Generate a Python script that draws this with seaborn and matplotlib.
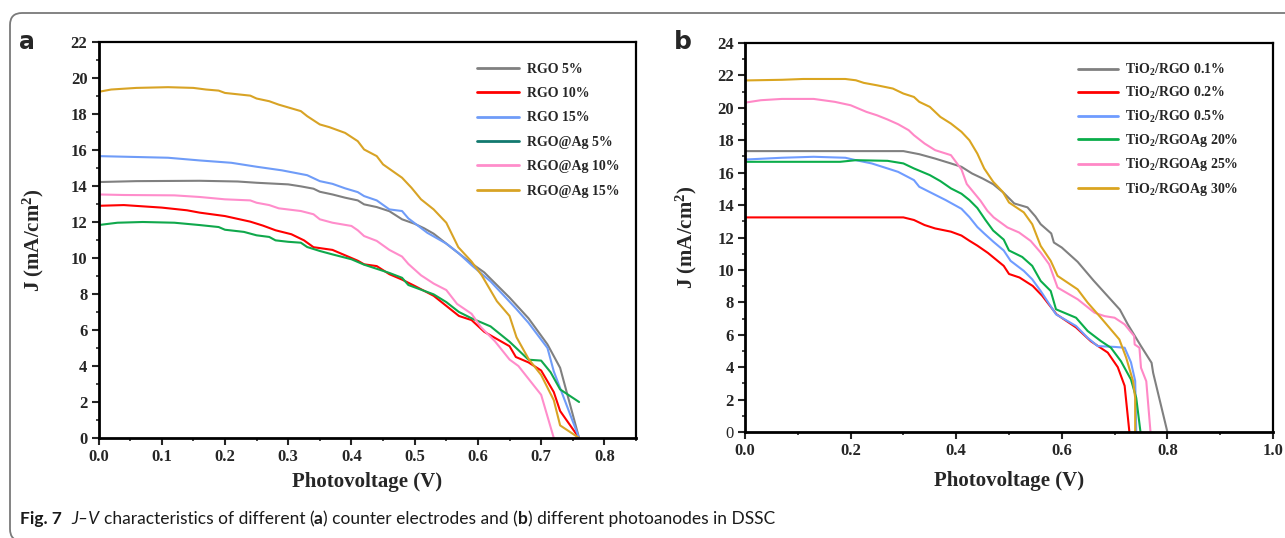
import numpy as np
import pandas as pd
import matplotlib
matplotlib.use('Agg')
import matplotlib.pyplot as plt
import seaborn as sns
from matplotlib.patches import FancyBboxPatch
from matplotlib.ticker import MultipleLocator

# ---- panel a: counter electrodes ----
labels_a = ['RGO 5%', 'RGO 10%', 'RGO 15%', 'RGO@Ag 5%', 'RGO@Ag 10%', 'RGO@Ag 15%']
colors_a = ['#808080', '#ff0000', '#6f9cf8', '#10a84c', '#ff8dcb', '#d8a325']

rgo5_v = [0, 0.06, 0.16, 0.22, 0.25, 0.30, 0.32, 0.34, 0.35, 0.37, 0.39, 0.41, 0.42, 0.44, 0.46,
          0.48, 0.50, 0.515, 0.53, 0.55, 0.59, 0.61, 0.63, 0.65, 0.68, 0.71, 0.73, 0.76]
rgo5_j = [14.22, 14.27, 14.29, 14.25, 14.18, 14.09, 13.98, 13.85, 13.68, 13.53, 13.35, 13.2, 12.98,
          12.83, 12.6, 12.15, 11.9, 11.65, 11.35, 10.8, 9.7, 9.2, 8.5, 7.8, 6.65, 5.2, 3.9, 0.0]

rgo10_v = [0, 0.04, 0.10, 0.14, 0.16, 0.20, 0.24, 0.26, 0.28, 0.305, 0.325, 0.34, 0.37, 0.39, 0.41,
           0.42, 0.44, 0.46, 0.48, 0.50, 0.53, 0.555, 0.57, 0.59, 0.61, 0.65, 0.66, 0.68, 0.70, 0.72,
           0.73, 0.76]
rgo10_j = [12.9, 12.94, 12.8, 12.65, 12.52, 12.33, 12.02, 11.8, 11.54, 11.32, 10.98, 10.6, 10.45,
           10.15, 9.85, 9.65, 9.55, 9.1, 8.8, 8.45, 7.9, 7.2, 6.78, 6.55, 5.9, 5.1, 4.5, 4.2, 3.75,
           2.55, 1.5, 0.0]

rgo15_v = [0, 0.11, 0.16, 0.21, 0.25, 0.29, 0.33, 0.35, 0.37, 0.39, 0.41, 0.42, 0.44, 0.46, 0.48,
           0.49, 0.52, 0.55, 0.57, 0.59, 0.62, 0.66, 0.68, 0.71, 0.72, 0.76]
rgo15_j = [15.66, 15.57, 15.42, 15.29, 15.07, 14.87, 14.6, 14.27, 14.12, 13.87, 13.66, 13.44, 13.2,
           12.7, 12.61, 12.2, 11.4, 10.8, 10.25, 9.6, 8.7, 7.2, 6.4, 5.0, 3.7, 0.0]

ag5_v = [0, 0.03, 0.07, 0.12, 0.16, 0.19, 0.20, 0.23, 0.25, 0.27, 0.28, 0.30, 0.32, 0.33, 0.35, 0.37,
         0.40, 0.42, 0.46, 0.48, 0.49, 0.53, 0.55, 0.57, 0.59, 0.62, 0.65, 0.68, 0.70, 0.715, 0.73, 0.76]
ag5_j = [11.83, 11.96, 12.0, 11.96, 11.83, 11.72, 11.57, 11.45, 11.26, 11.17, 10.98, 10.9, 10.85,
         10.61, 10.39, 10.2, 9.93, 9.63, 9.17, 8.9, 8.5, 7.98, 7.55, 7.0, 6.65, 6.2, 5.35, 4.35, 4.3,
         3.65, 2.7, 2.0]

ag10_v = [0, 0.04, 0.12, 0.16, 0.20, 0.24, 0.25, 0.27, 0.285, 0.32, 0.34, 0.35, 0.37, 0.40, 0.41,
          0.42, 0.44, 0.46, 0.48, 0.49, 0.51, 0.53, 0.55, 0.567, 0.59, 0.605, 0.627, 0.65, 0.664, 0.70,
          0.72]
ag10_j = [13.53, 13.5, 13.48, 13.39, 13.26, 13.2, 13.07, 12.94, 12.76, 12.61, 12.43, 12.15, 11.96,
          11.78, 11.54, 11.22, 10.95, 10.45, 10.08, 9.67, 9.04, 8.58, 8.22, 7.45, 6.9, 6.15, 5.37, 4.36,
          4.0, 2.4, 0.0]

ag15_v = [0, 0.02, 0.06, 0.11, 0.15, 0.17, 0.19, 0.20, 0.24, 0.25, 0.27, 0.285, 0.32, 0.33, 0.35,
          0.365, 0.39, 0.41, 0.42, 0.44, 0.45, 0.48, 0.495, 0.51, 0.53, 0.55, 0.569, 0.59, 0.606, 0.63,
          0.65, 0.661, 0.68, 0.70, 0.72, 0.73, 0.76]
ag15_j = [19.23, 19.36, 19.45, 19.49, 19.45, 19.36, 19.3, 19.17, 19.02, 18.86, 18.71, 18.52, 18.16,
          17.88, 17.42, 17.27, 16.95, 16.49, 16.03, 15.66, 15.2, 14.46, 13.9, 13.26, 12.7, 11.96, 10.6,
          9.8, 9.04, 7.6, 6.78, 5.6, 4.4, 3.5, 2.1, 0.7, 0.0]

# ---- panel b: photoanodes ----
labels_b = ['TiO$_2$/RGO 0.1%', 'TiO$_2$/RGO 0.2%', 'TiO$_2$/RGO 0.5%',
            'TiO$_2$/RGOAg 20%', 'TiO$_2$/RGOAg 25%', 'TiO$_2$/RGOAg 30%']
colors_b = ['#808080', '#ff0000', '#6f9cff', '#0aad4a', '#ff88c6', '#daa520']

t01_v = [0, 0.30, 0.33, 0.36, 0.39, 0.41, 0.43, 0.45, 0.47, 0.49, 0.51, 0.535, 0.55, 0.56, 0.58,
         0.585, 0.60, 0.63, 0.66, 0.71, 0.725, 0.75, 0.77, 0.773, 0.80]
t01_j = [17.33, 17.33, 17.14, 16.87, 16.57, 16.36, 15.95, 15.64, 15.29, 14.75, 14.1, 13.86, 13.3,
         12.82, 12.25, 11.69, 11.38, 10.5, 9.35, 7.55, 6.64, 5.3, 4.27, 3.65, 0.0]

t02_v = [0, 0.30, 0.32, 0.34, 0.36, 0.39, 0.41, 0.425, 0.44, 0.46, 0.49, 0.50, 0.52, 0.545, 0.563,
         0.59, 0.627, 0.655, 0.687, 0.706, 0.719, 0.728]
t02_j = [13.24, 13.24, 13.08, 12.77, 12.56, 12.36, 12.12, 11.8, 11.5, 11.05, 10.25, 9.75, 9.53, 9.01,
         8.4, 7.26, 6.45, 5.6, 4.9, 4.0, 2.85, 0.0]

t05_v = [0, 0.07, 0.13, 0.19, 0.21, 0.24, 0.27, 0.29, 0.32, 0.33, 0.355, 0.38, 0.41, 0.425, 0.44,
         0.453, 0.47, 0.49, 0.503, 0.528, 0.544, 0.56, 0.589, 0.627, 0.649, 0.668, 0.70, 0.719, 0.731,
         0.739, 0.741]
t05_j = [16.81, 16.92, 16.98, 16.92, 16.77, 16.57, 16.26, 16.05, 15.54, 15.13, 14.72, 14.31, 13.77,
         13.26, 12.65, 12.25, 11.75, 11.2, 10.56, 9.94, 9.42, 8.7, 7.26, 6.54, 5.81, 5.3, 5.25, 5.2,
         4.3, 3.15, 0.0]

t20_v = [0, 0.18, 0.21, 0.27, 0.30, 0.32, 0.35, 0.37, 0.39, 0.41, 0.425, 0.44, 0.455, 0.47, 0.49,
         0.50, 0.525, 0.544, 0.56, 0.579, 0.589, 0.627, 0.649, 0.674, 0.693, 0.712, 0.731, 0.741, 0.749]
t20_j = [16.67, 16.67, 16.77, 16.73, 16.57, 16.26, 15.85, 15.48, 15.03, 14.7, 14.31, 13.82, 13.1,
         12.43, 11.87, 11.2, 10.8, 10.25, 9.32, 8.7, 7.57, 7.05, 6.23, 5.61, 5.2, 4.37, 3.24, 2.1, 0.0]

t25_v = [0, 0.03, 0.07, 0.13, 0.17, 0.20, 0.23, 0.25, 0.27, 0.29, 0.31, 0.32, 0.34, 0.36, 0.39,
         0.41, 0.42, 0.446, 0.459, 0.471, 0.497, 0.519, 0.541, 0.56, 0.576, 0.592, 0.63, 0.662, 0.681,
         0.70, 0.719, 0.737, 0.738, 0.747, 0.75, 0.76, 0.768]
t25_j = [20.32, 20.47, 20.55, 20.55, 20.37, 20.16, 19.75, 19.54, 19.28, 18.99, 18.62, 18.31, 17.8,
         17.39, 17.08, 16.2, 15.3, 14.27, 13.65, 13.24, 12.62, 12.31, 11.79, 11.07, 10.35, 8.91, 8.19,
         7.36, 7.15, 7.05, 6.64, 5.92, 5.4, 5.2, 3.96, 3.13, 0.0]

t30_v = [0, 0.07, 0.11, 0.19, 0.21, 0.225, 0.25, 0.28, 0.30, 0.32, 0.33, 0.35, 0.37, 0.39, 0.41,
         0.425, 0.44, 0.453, 0.47, 0.488, 0.50, 0.528, 0.544, 0.56, 0.579, 0.592, 0.63, 0.649, 0.674,
         0.709, 0.722, 0.735, 0.739, 0.739]
t30_j = [21.69, 21.73, 21.78, 21.78, 21.7, 21.54, 21.39, 21.19, 20.88, 20.67, 20.37, 20.06, 19.44,
         19.03, 18.52, 18.0, 17.18, 16.26, 15.44, 14.82, 14.16, 13.55, 12.82, 11.48, 10.56, 9.63, 8.8,
         7.98, 7.05, 5.71, 4.58, 3.13, 2.1, 0.0]

yticks_a = list(range(0, 23, 2))
yticks_b = list(range(0, 25, 2))
xticks_a = [0.0, 0.1, 0.2, 0.3, 0.4, 0.5, 0.6, 0.7, 0.8]
xticks_b = [0.0, 0.2, 0.4, 0.6, 0.8, 1.0]


def long_table(series, labels):
    frames = []
    for (v, j), lab in zip(series, labels):
        frames.append(pd.DataFrame({'V': v, 'J': j, 'series': lab}))
    return pd.concat(frames, ignore_index=True)


df_a = long_table([(rgo5_v, rgo5_j), (rgo10_v, rgo10_j), (rgo15_v, rgo15_j),
                   (ag5_v, ag5_j), (ag10_v, ag10_j), (ag15_v, ag15_j)], labels_a)
df_b = long_table([(t01_v, t01_j), (t02_v, t02_j), (t05_v, t05_j),
                   (t20_v, t20_j), (t25_v, t25_j), (t30_v, t30_j)], labels_b)

sns.set_style('white')
plt.rcParams['font.family'] = ['Liberation Serif', 'DejaVu Sans']
plt.rcParams['font.weight'] = 'bold'
plt.rcParams['axes.labelweight'] = 'bold'
plt.rcParams['mathtext.fontset'] = 'custom'
plt.rcParams['mathtext.rm'] = 'Liberation Serif:bold'
plt.rcParams['mathtext.bf'] = 'Liberation Serif:bold'
plt.rcParams['mathtext.it'] = 'Liberation Serif:italic:bold'

W, H = 1285, 538
fig = plt.figure(figsize=(W / 100, H / 100), dpi=100)


def px_axes(l, t, r, b):
    return fig.add_axes([l / W, (H - b) / H, (r - l) / W, (b - t) / H])


ax_a = px_axes(98.5, 42, 636, 438)
ax_b = px_axes(745, 43, 1273, 432)

sns.lineplot(data=df_a, x='V', y='J', hue='series', hue_order=labels_a, palette=colors_a,
             estimator=None, sort=False, lw=1.5, ax=ax_a)
sns.lineplot(data=df_b, x='V', y='J', hue='series', hue_order=labels_b, palette=colors_b,
             estimator=None, sort=False, lw=1.5, ax=ax_b)


def style_axes(ax, xlim, ylim, xticks, yticks, xminor):
    ax.set_xlim(*xlim)
    ax.set_ylim(*ylim)
    ax.set_xticks(xticks, [f'{v:.1f}' for v in xticks])
    ax.set_yticks(yticks, [str(v) for v in yticks])
    ax.xaxis.set_minor_locator(MultipleLocator(xminor))
    ax.yaxis.set_minor_locator(MultipleLocator(1))
    ax.tick_params(which='major', direction='out', length=5, width=1.5, labelsize=12,
                   bottom=True, left=True, pad=3)
    ax.tick_params(which='minor', direction='out', length=2.5, width=1.2, bottom=True, left=True)
    for side in ['left', 'bottom']:
        ax.spines[side].set_linewidth(2.0)
    for side in ['top', 'right']:
        ax.spines[side].set_linewidth(1.6)
    for sp in ax.spines.values():
        sp.set_color('black')
    for lbl in ax.get_xticklabels() + ax.get_yticklabels():
        lbl.set_fontweight('bold')
    ax.set_xlabel('Photovoltage (V)', fontsize=15, fontweight='bold')
    ax.set_ylabel('J (mA/cm$^2$)', fontsize=15, fontweight='bold')


style_axes(ax_a, (0, 0.85), (0, 22), xticks_a, yticks_a, 0.05)
style_axes(ax_b, (0, 1.0), (0, 24), xticks_b, yticks_b, 0.1)
ax_b.get_yticklabels()[0].set_fontweight('normal')

ax_a.xaxis.set_label_coords(0.5, -0.085)
ax_b.xaxis.set_label_coords(0.5, -0.10)
ax_a.yaxis.set_label_coords(-0.098, 0.5)
ax_b.yaxis.set_label_coords(-0.088, 0.5)

sns.move_legend(ax_a, 'upper left', bbox_to_anchor=(0.704, 0.948), frameon=False, title=None,
                fontsize=10, handlelength=3.0, handletextpad=0.6, labelspacing=0.82,
                borderpad=0, borderaxespad=0)
sns.move_legend(ax_b, 'upper left', bbox_to_anchor=(0.631, 0.952), frameon=False, title=None,
                fontsize=10, handlelength=2.9, handletextpad=0.45, labelspacing=0.53,
                borderpad=0, borderaxespad=0)
for ax in (ax_a, ax_b):
    for h in ax.get_legend().legend_handles:
        h.set_linewidth(2.0)
# legend swatch for RGO@Ag 5% is drawn in teal in the source figure
ax_a.get_legend().legend_handles[3].set_color('#12796f')

# panel letters
fig.text(27 / W, 1 - 42 / H, 'a', fontsize=17, fontweight='bold', family='DejaVu Sans',
         ha='center', va='center')
fig.text(683 / W, 1 - 42 / H, 'b', fontsize=18, fontweight='bold', family='DejaVu Sans',
         ha='center', va='center')

# frame around the figure (journal style, rounded left corners)
frame = FancyBboxPatch((0.10, -0.03), 13.2, 5.28, boxstyle='round,pad=0,rounding_size=0.12',
                       transform=fig.dpi_scale_trans, fill=False, ec='#7a7a7a', lw=1.3,
                       clip_on=False)
fig.add_artist(frame)

# caption with mixed styles
renderer = fig.canvas.get_renderer()
cap_font = 'Lato'
cap_size = 12.5
pieces = [('Fig. 7', 'bold', 'normal', 2), ('J–V', 'normal', 'italic', 1),
          ('characteristics of different (', 'normal', 'normal', 0), ('a', 'bold', 'normal', 0),
          (') counter electrodes and (', 'normal', 'normal', 0), ('b', 'bold', 'normal', 0),
          (') different photoanodes in DSSC', 'normal', 'normal', 0)]


def text_width(s, weight, style):
    t = fig.text(0, 0, s, family=cap_font, fontsize=cap_size, fontweight=weight, fontstyle=style)
    w = t.get_window_extent(renderer).width
    t.remove()
    return w


space_w = text_width('a a', 'normal', 'normal') - text_width('aa', 'normal', 'normal')
x_px = 20
for s, weight, style, gap in pieces:
    t = fig.text(x_px / W, 14 / H, s, family=cap_font, fontsize=cap_size, fontweight=weight,
                 fontstyle=style, color='#1a1a1a', va='baseline')
    x_px += t.get_window_extent(renderer).width + gap * space_w

fig.savefig('out.png', dpi=100)
